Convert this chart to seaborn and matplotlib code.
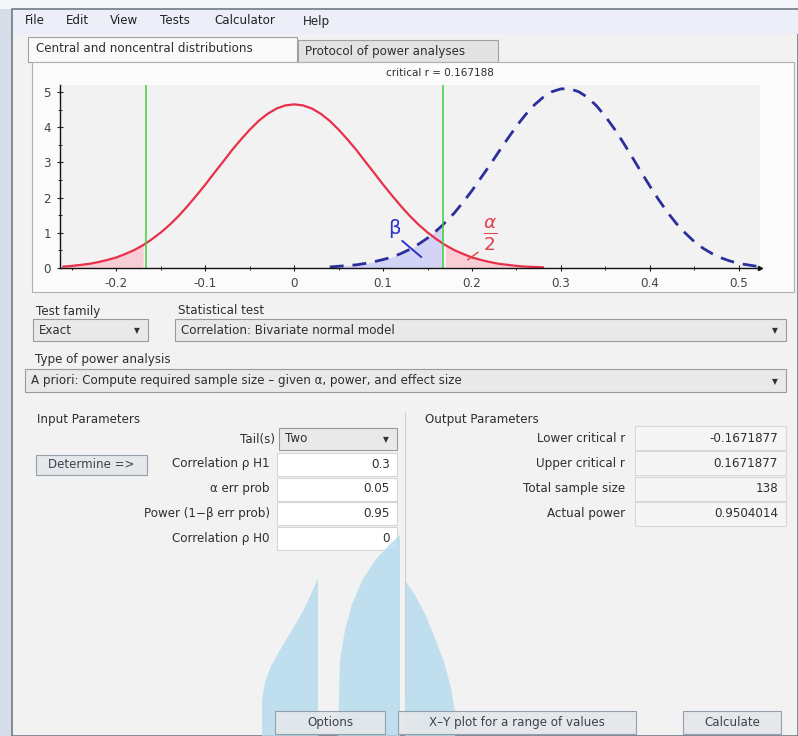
import numpy as np
import pandas as pd
import matplotlib
matplotlib.use("Agg")
import matplotlib.pyplot as plt
import seaborn as sns
from matplotlib.patches import Rectangle, Polygon

critical_r = 0.167188

h0_r = [-0.26, -0.25, -0.24, -0.23, -0.22, -0.21, -0.20, -0.19, -0.18, -0.17, -0.167,
        -0.16, -0.15, -0.14, -0.13, -0.12, -0.11, -0.10, -0.09, -0.08, -0.07, -0.06,
        -0.05, -0.04, -0.03, -0.02, -0.01, 0.00, 0.01, 0.02, 0.03, 0.04, 0.05, 0.06,
        0.07, 0.08, 0.09, 0.10, 0.11, 0.12, 0.13, 0.14, 0.15, 0.16, 0.167, 0.17, 0.18,
        0.19, 0.20, 0.21, 0.22, 0.23, 0.24, 0.25, 0.26, 0.27, 0.28]
h0_density = [0.04, 0.06, 0.09, 0.12, 0.17, 0.23, 0.30, 0.40, 0.51, 0.65, 0.70,
              0.82, 1.01, 1.23, 1.48, 1.76, 2.06, 2.37, 2.70, 3.02, 3.35, 3.65,
              3.93, 4.18, 4.38, 4.53, 4.62, 4.65, 4.62, 4.53, 4.38, 4.18, 3.93, 3.65,
              3.35, 3.02, 2.70, 2.37, 2.06, 1.76, 1.48, 1.23, 1.01, 0.82, 0.70, 0.65, 0.51,
              0.40, 0.30, 0.23, 0.17, 0.12, 0.09, 0.06, 0.04, 0.03, 0.02]

h1_r = [0.04, 0.05, 0.06, 0.07, 0.08, 0.09, 0.10, 0.11, 0.12, 0.13, 0.14, 0.15, 0.16,
        0.167, 0.17, 0.18, 0.19, 0.20, 0.21, 0.22, 0.23, 0.24, 0.25, 0.26, 0.27, 0.28,
        0.29, 0.30, 0.31, 0.32, 0.33, 0.34, 0.35, 0.36, 0.37, 0.38, 0.39, 0.40, 0.41,
        0.42, 0.43, 0.44, 0.45, 0.46, 0.47, 0.48, 0.49, 0.50, 0.51, 0.52]
h1_density = [0.03, 0.05, 0.07, 0.09, 0.13, 0.18, 0.24, 0.31, 0.41, 0.53, 0.68, 0.85, 1.06,
              1.22, 1.30, 1.56, 1.87, 2.20, 2.56, 2.92, 3.30, 3.67, 4.03, 4.35, 4.63, 4.85,
              5.01, 5.09, 5.09, 5.01, 4.85, 4.61, 4.31, 3.96, 3.57, 3.16, 2.74, 2.33, 1.94,
              1.58, 1.26, 0.99, 0.75, 0.56, 0.41, 0.29, 0.20, 0.13, 0.09, 0.05]

x_ticks = [-0.2, -0.1, 0, 0.1, 0.2, 0.3, 0.4, 0.5]
x_tick_labels = ["-0.2", "-0.1", "0", "0.1", "0.2", "0.3", "0.4", "0.5"]
y_ticks = [0, 1, 2, 3, 4, 5]

menu_items = ["File", "Edit", "View", "Tests", "Calculator", "Help"]
menu_x = [25, 66, 110, 160, 214, 303]

input_labels = ["Correlation ρ H1", "α err prob", "Power (1−β err prob)", "Correlation ρ H0"]
input_values = ["0.3", "0.05", "0.95", "0"]
output_labels = ["Lower critical r", "Upper critical r", "Total sample size", "Actual power"]
output_values = ["-0.1671877", "0.1671877", "138", "0.9504014"]

h0 = pd.DataFrame({"r": h0_r, "density": h0_density})
h1 = pd.DataFrame({"r": h1_r, "density": h1_density})

sns.set_theme(style="white")
plt.rcParams['font.family'] = ['DejaVu Sans']

W, H = 798, 736
fig = plt.figure(figsize=(W / 100, H / 100), dpi=100)
fig.patch.set_facecolor("#d4dde8")

# UI layer in pixel coordinates
ui = fig.add_axes([0, 0, 1, 1], zorder=0)
ui.set_xlim(0, W)
ui.set_ylim(H, 0)
ui.axis("off")

TXT = "#2e2e2e"
FS = 8.6


def box(x0, y0, x1, y1, fc, ec="#a8a8a8", lw=0.8, **kw):
    ui.add_patch(Rectangle((x0, y0), x1 - x0, y1 - y0, fc=fc, ec=ec, lw=lw, **kw))


def dropdown(x0, y0, x1, y1, label):
    box(x0, y0, x1, y1, "#e9e9e9", "#9a9a9a")
    ui.text(x0 + 6, (y0 + y1) / 2, label, fontsize=FS, color=TXT, va="center")
    ui.text(x1 - 11, (y0 + y1) / 2 + 1, "▼", fontsize=5.5, color="#333333", va="center", ha="center")


def button(x0, y0, x1, y1, label):
    box(x0, y0, x1, y1, "#e4e7ea", "#8e9aa4", alpha=0.92)
    ui.text((x0 + x1) / 2, (y0 + y1) / 2, label, fontsize=FS, color="#3a4450", va="center", ha="center")


# window frame
box(0, 0, W, 9, "#f4f6fa", ec="none")
box(12, 9, W, H, "#f2f2f2", ec="#6f7a86", lw=1.2)
box(13, 10, W, 34, "#eceef8", ec="none")
for name, mx in zip(menu_items, menu_x):
    ui.text(mx, 21, name, fontsize=FS, color="#222222", va="center")

# tabs
box(298, 40, 498, 62, "#e2e2e2", "#a0a0a0")
ui.text(305, 51, "Protocol of power analyses", fontsize=FS, color=TXT, va="center")
box(28, 37, 297, 62, "#fafafa", "#a0a0a0")
ui.text(36, 48, "Central and noncentral distributions", fontsize=FS, color=TXT, va="center")

# plot panel
box(32, 62, 794, 292, "#fbfbfb", "#b0b0b0")
ui.text(440, 73, "critical r = 0.167188", fontsize=7.5, color=TXT, va="center", ha="center")

# test selection
ui.text(36, 311, "Test family", fontsize=FS, color=TXT, va="center")
ui.text(178, 311, "Statistical test", fontsize=FS, color=TXT, va="center")
dropdown(33, 319, 148, 341, "Exact")
dropdown(175, 319, 786, 341, "Correlation: Bivariate normal model")
ui.text(35, 360, "Type of power analysis", fontsize=FS, color=TXT, va="center")
dropdown(25, 369, 786, 392, "A priori: Compute required sample size – given α, power, and effect size")

# input parameters
ui.plot([405, 405], [412, 700], color="#d0d0d0", lw=0.8)
ui.text(37, 420, "Input Parameters", fontsize=FS, color=TXT, va="center")
ui.text(275, 439, "Tail(s)", fontsize=FS, color=TXT, va="center", ha="right")
dropdown(279, 428, 397, 450, "Two")
button(36, 455, 147, 475, "Determine =>")
for i, (lab, val) in enumerate(zip(input_labels, input_values)):
    yc = 464 + i * 24.7
    box(277, yc - 11, 397, yc + 12, "#ffffff", "#d6d6d6")
    ui.text(270, yc, lab, fontsize=FS, color=TXT, va="center", ha="right")
    ui.text(390, yc, val, fontsize=FS, color=TXT, va="center", ha="right")

# output parameters
ui.text(425, 420, "Output Parameters", fontsize=FS, color=TXT, va="center")
for i, (lab, val) in enumerate(zip(output_labels, output_values)):
    yc = 438 + i * 25.3
    box(635, yc - 12, 786, yc + 12, "#f5f5f5", "#d8d8d8")
    ui.text(625, yc, lab, fontsize=FS, color=TXT, va="center", ha="right")
    ui.text(778, yc, val, fontsize=FS, color=TXT, va="center", ha="right")

# faint watermark shapes behind the buttons
wm = "#b3dbee"
ui.add_patch(Polygon([(318, 578), (312, 592), (303, 611), (292, 630), (280, 650), (271, 666),
                      (265, 682), (262, 700), (262, 736), (318, 736)],
                     fc=wm, ec="none", alpha=0.8))
ui.add_patch(Polygon([(400, 535), (390, 544), (376, 559), (363, 579), (352, 604), (345, 630),
                      (340, 660), (338, 736), (400, 736)],
                     fc=wm, ec="none", alpha=0.8))
ui.add_patch(Polygon([(405, 580), (415, 595), (425, 614), (435, 638), (444, 662), (451, 688),
                      (455, 712), (455, 736), (405, 736)],
                     fc=wm, ec="none", alpha=0.8))

button(275, 711, 385, 734, "Options")
button(398, 711, 636, 734, "X–Y plot for a range of values")
button(683, 711, 781, 734, "Calculate")

# distribution chart
ax = fig.add_axes([60 / W, 1 - 268 / H, 700 / W, 183 / H], zorder=2)
ax.set_facecolor("#f2f2f2")
ax.set_xlim(-0.2635, 0.524)
ax.set_ylim(0, 5.2)

red = "#e8304a"
blue = "#2b2f9c"
green = "#3fd03f"

left_tail = h0[h0["r"] <= -critical_r + 1e-4]
right_tail = h0[h0["r"] >= critical_r - 1e-4]
beta_part = h1[h1["r"] <= critical_r + 1e-4]
ax.fill_between(left_tail["r"], 0, left_tail["density"], color="#f9cdd5", lw=0)
ax.fill_between(right_tail["r"], 0, right_tail["density"], color="#f9cdd5", lw=0)
ax.fill_between(beta_part["r"], 0, beta_part["density"], color="#d3d3f5", lw=0)

sns.lineplot(data=h0, x="r", y="density", ax=ax, color=red, lw=1.6, estimator=None, sort=False)
sns.lineplot(data=h1, x="r", y="density", ax=ax, color=blue, lw=2.0, estimator=None, sort=False,
             linestyle=(0, (5, 3.2)))
ax.axvline(-critical_r, color=green, lw=1.1)
ax.axvline(critical_r, color=green, lw=1.1)

# beta and alpha/2 labels
ax.text(0.113, 1.12, "β", color="#2d33c8", fontsize=14, ha="center", va="center")
ax.plot([0.1215, 0.143], [0.77, 0.31], color="#2d33c8", lw=1.4)
ax.text(0.2205, 0.95, r"$\frac{\alpha}{2}$", color="#e0404a", fontsize=19, ha="center", va="center")
ax.plot([0.207, 0.195], [0.45, 0.23], color="#e0404a", lw=1.0)

ax.set_xticks(x_ticks)
ax.set_xticklabels(x_tick_labels)
ax.set_xticks([-0.25, -0.15, -0.05, 0.05, 0.15, 0.25, 0.35, 0.45], minor=True)
ax.set_yticks(y_ticks)
ax.set_yticks([0.5, 1.5, 2.5, 3.5, 4.5], minor=True)
ax.tick_params(axis="both", which="major", direction="inout", length=5, width=0.8,
               colors="#222222", labelsize=8.6, labelcolor="#444444", pad=4)
ax.tick_params(axis="both", which="minor", direction="inout", length=3, width=0.7, colors="#222222")
ax.tick_params(axis="x", bottom=True, which="both")
ax.tick_params(axis="y", left=True, which="both")
ax.set_xlabel("")
ax.set_ylabel("")
for s in ["top", "right"]:
    ax.spines[s].set_visible(False)
for s in ["left", "bottom"]:
    ax.spines[s].set_color("#111111")
    ax.spines[s].set_linewidth(1.0)
ax.plot(1, 0, ">", color="#111111", ms=3, transform=ax.transAxes, clip_on=False)

fig.savefig("out.png", dpi=100, facecolor=fig.get_facecolor())
